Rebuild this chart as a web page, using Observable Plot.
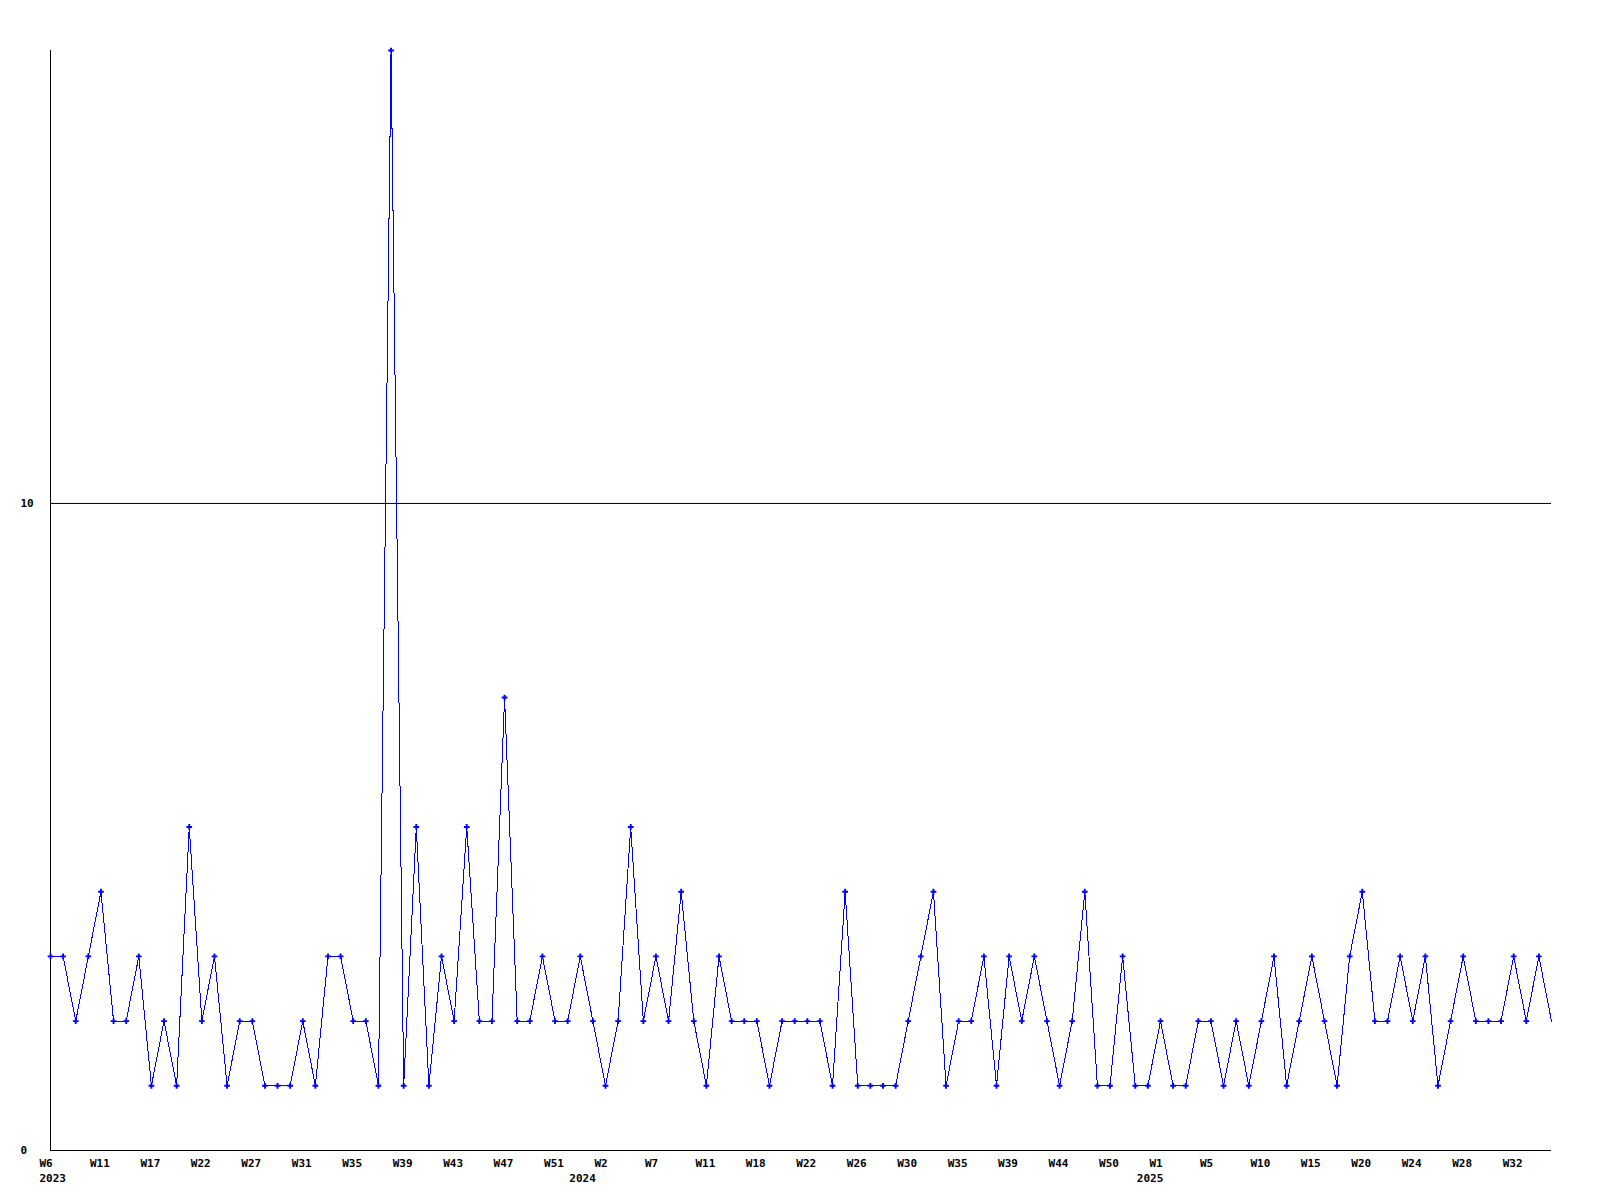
<!DOCTYPE html>
<html>
<head>
<meta charset="utf-8">
<script src="https://cdn.jsdelivr.net/npm/d3@7"></script>
<script src="https://cdn.jsdelivr.net/npm/@observablehq/plot@0.6"></script>
<style>
  html, body { margin: 0; padding: 0; background: #fff; overflow: hidden; }
  svg { display: block; }
</style>
</head>
<body>
<div id="chart"></div>
<script>
// Weekly counts, one per data point (120 points)
const values = [
  3,3,2,3,4,2,2,3,1,2,
  1,5,2,3,1,2,2,1,1,1,
  2,1,3,3,2,2,1,17,1,5,
  1,3,2,5,2,2,7,2,2,3,
  2,2,3,2,1,2,5,2,3,2,
  4,2,1,3,2,2,2,1,2,2,
  2,2,1,4,1,1,1,1,2,3,
  4,1,2,2,3,1,3,2,3,2,
  1,2,4,1,1,3,1,1,2,1,
  1,2,2,1,2,1,2,3,1,2,
  3,2,1,3,4,2,2,3,2,3,
  1,2,3,2,2,2,3,2,3,2
];

// Week labels, shown on every 4th point
const weekLabels = ["W6","W11","W17","W22","W27","W31","W35","W39","W43","W47","W51",
  "W2","W7","W11","W18","W22","W26","W30","W35","W39","W44","W50",
  "W1","W5","W10","W15","W20","W24","W28","W32"];
const labelEvery = 4;

// Year labels and the first point index of each year
const years = ["2023", "2024", "2025"];
const yearStart = [0, 42, 87];

// Y tick values
const yTicks = [0, 10];
const yMax = 17;

const data = values.map((v, i) => ({i, v}));
const weekData = weekLabels.map((w, k) => ({i: k * labelEvery, w}));
const yearData = years.map((y, k) => ({i: yearStart[k], y}));

const font = "DejaVu Sans Mono, Liberation Mono, monospace";

const chart = Plot.plot({
  width: 1600,
  height: 1200,
  marginLeft: 50,
  marginRight: 49,
  marginTop: 50,
  marginBottom: 50,
  style: {background: "#fff", fontFamily: font},
  x: {domain: [0, values.length - 1], axis: null},
  y: {domain: [0, yMax], axis: null},
  marks: [
    Plot.ruleY(yTicks.filter(t => t > 0), {stroke: "black", strokeWidth: 1}),
    Plot.ruleY([0], {stroke: "black", strokeWidth: 1}),
    Plot.ruleX([0], {stroke: "black", strokeWidth: 1}),
    Plot.line(data, {x: "i", y: "v", stroke: "#0000ff", strokeWidth: 1, shapeRendering: "crispEdges"}),
    Plot.dot(data.slice(0, -1), {x: "i", y: "v", symbol: "cross", r: 2.4, fill: "#0000ff", stroke: "none"}),
    Plot.text(yTicks, {y: d => d, text: d => String(d), frameAnchor: "left", dx: -30, textAnchor: "start",
      lineAnchor: "middle", fontSize: 11, fontWeight: "bold", fill: "black"}),
    Plot.text(weekData, {x: "i", y: 0, text: "w", textAnchor: "start", dx: -11, dy: 16,
      lineAnchor: "bottom", fontSize: 11, fontWeight: "bold", fill: "black"}),
    Plot.text(yearData, {x: "i", y: 0, text: "y", textAnchor: "start", dx: -11, dy: 31,
      lineAnchor: "bottom", fontSize: 11, fontWeight: "bold", fill: "black"})
  ]
});
document.getElementById("chart").appendChild(chart);
</script>
</body>
</html>
